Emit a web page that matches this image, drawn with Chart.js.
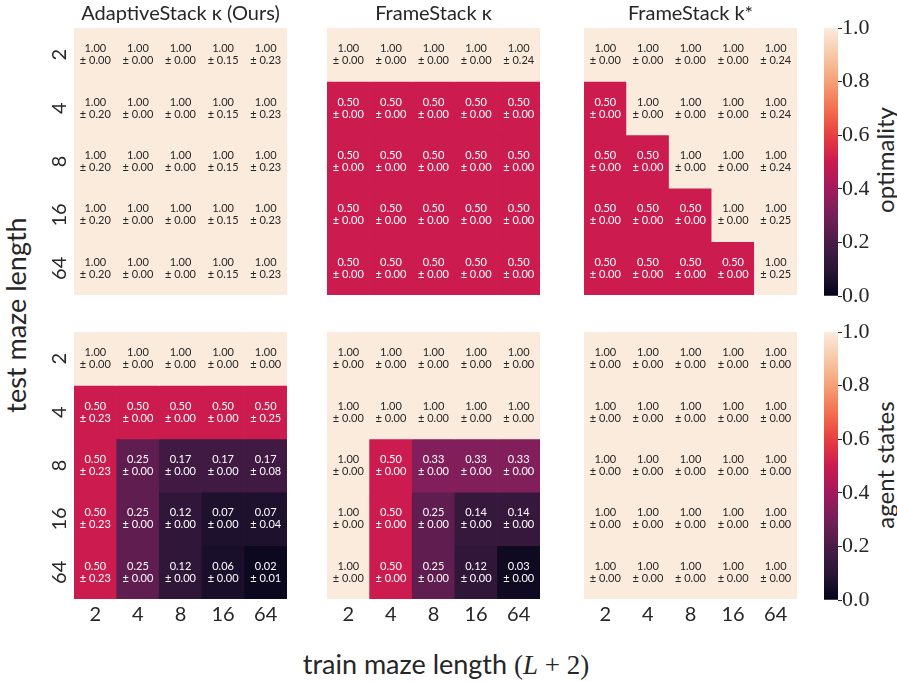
<!DOCTYPE html>
<html>
<head>
<meta charset="utf-8">
<script src="https://cdn.jsdelivr.net/npm/chart.js@4.4.1/dist/chart.umd.min.js"></script>
<style>
  body { margin: 0; background: #fff; width: 897px; height: 682px; position: relative; overflow: hidden; font-family: Lato, sans-serif; color: #262626; }
  canvas { position: absolute; }
  .lbl { position: absolute; white-space: nowrap; transform: translate(-50%, -50%); }
  .rot { transform: translate(-50%, -50%) rotate(-90deg); }
  .math { font-family: 'Liberation Serif', serif; }
</style>
</head>
<body>
<div class="lbl rot" style="left:15px; top:315px; font-size:27px;">test maze length</div>
<div class="lbl" style="left:446px; top:664px; font-size:27px;">train maze length <span class="math">(<i>L</i> + 2)</span></div>
<div class="lbl rot" style="left:884px; top:160px; font-size:24px;">optimality</div>
<div class="lbl rot" style="left:884px; top:465px; font-size:24px;">agent states</div>

<script>
// Axis categories
const trainLengths = ['2', '4', '8', '16', '64'];
const testLengths = ['2', '4', '8', '16', '64'];
const titles = ['AdaptiveStack κ (Ours)', 'FrameStack κ', 'FrameStack k*'];
const colorbarTicks = [0, 0.2, 0.4, 0.6, 0.8, 1.0];

// Optimality (top row): rows = test length, columns = train length
const adaptiveOptMean = [
  [1, 1, 1, 1, 1],
  [1, 1, 1, 1, 1],
  [1, 1, 1, 1, 1],
  [1, 1, 1, 1, 1],
  [1, 1, 1, 1, 1],
];
const adaptiveOptStd = [
  [0.00, 0.00, 0.00, 0.15, 0.23],
  [0.20, 0.00, 0.00, 0.15, 0.23],
  [0.20, 0.00, 0.00, 0.15, 0.23],
  [0.20, 0.00, 0.00, 0.15, 0.23],
  [0.20, 0.00, 0.00, 0.15, 0.23],
];
const frameOptMean = [
  [1, 1, 1, 1, 1],
  [0.5, 0.5, 0.5, 0.5, 0.5],
  [0.5, 0.5, 0.5, 0.5, 0.5],
  [0.5, 0.5, 0.5, 0.5, 0.5],
  [0.5, 0.5, 0.5, 0.5, 0.5],
];
const frameOptStd = [
  [0, 0, 0, 0, 0.24],
  [0, 0, 0, 0, 0],
  [0, 0, 0, 0, 0],
  [0, 0, 0, 0, 0],
  [0, 0, 0, 0, 0],
];
const starOptMean = [
  [1, 1, 1, 1, 1],
  [0.5, 1, 1, 1, 1],
  [0.5, 0.5, 1, 1, 1],
  [0.5, 0.5, 0.5, 1, 1],
  [0.5, 0.5, 0.5, 0.5, 1],
];
const starOptStd = [
  [0, 0, 0, 0, 0.24],
  [0, 0, 0, 0, 0.24],
  [0, 0, 0, 0, 0.24],
  [0, 0, 0, 0, 0.25],
  [0, 0, 0, 0, 0.25],
];

// Agent states (bottom row)
const adaptiveStatesMean = [
  [1, 1, 1, 1, 1],
  [0.50, 0.50, 0.50, 0.50, 0.50],
  [0.50, 0.25, 0.17, 0.17, 0.17],
  [0.50, 0.25, 0.12, 0.07, 0.07],
  [0.50, 0.25, 0.12, 0.06, 0.02],
];
const adaptiveStatesStd = [
  [0.00, 0.00, 0.00, 0.00, 0.00],
  [0.23, 0.00, 0.00, 0.00, 0.25],
  [0.23, 0.00, 0.00, 0.00, 0.08],
  [0.23, 0.00, 0.00, 0.00, 0.04],
  [0.23, 0.00, 0.00, 0.00, 0.01],
];
const frameStatesMean = [
  [1, 1, 1, 1, 1],
  [1, 1, 1, 1, 1],
  [1, 0.50, 0.33, 0.33, 0.33],
  [1, 0.50, 0.25, 0.14, 0.14],
  [1, 0.50, 0.25, 0.12, 0.03],
];
const frameStatesStd = [
  [0, 0, 0, 0, 0],
  [0, 0, 0, 0, 0],
  [0, 0, 0, 0, 0],
  [0, 0, 0, 0, 0],
  [0, 0, 0, 0, 0],
];
const starStatesMean = [
  [1, 1, 1, 1, 1],
  [1, 1, 1, 1, 1],
  [1, 1, 1, 1, 1],
  [1, 1, 1, 1, 1],
  [1, 1, 1, 1, 1],
];
const starStatesStd = [
  [0, 0, 0, 0, 0],
  [0, 0, 0, 0, 0],
  [0, 0, 0, 0, 0],
  [0, 0, 0, 0, 0],
  [0, 0, 0, 0, 0],
];

// "rocket"-like colormap
const colorStops = [
  [0.0, '#03051A'], [0.1, '#2A1636'], [0.2, '#4A1C48'], [0.3, '#751F58'],
  [0.4, '#A11A5B'], [0.5, '#CB1B4F'], [0.6, '#E83F3F'], [0.7, '#F3704F'],
  [0.8, '#F6A075'], [0.9, '#F6C9A9'], [1.0, '#FAEBDD'],
];
const hex = (h) => [1, 3, 5].map(i => parseInt(h.slice(i, i + 2), 16));
const rocket = (v) => {
  for (let k = 1; k < colorStops.length; k++) {
    const [s1, c1] = colorStops[k];
    const [s0, c0] = colorStops[k - 1];
    if (v <= s1) {
      const t = (v - s0) / (s1 - s0);
      const a = hex(c0), b = hex(c1);
      return `rgb(${a.map((x, i) => Math.round(x + t * (b[i] - x))).join(',')})`;
    }
  }
  return colorStops[colorStops.length - 1][1];
};

const TEXT = '#262626';
const colLeft = [74, 327, 584];
const rowTop = [28, 332];
const PANEL_W = 213;
const PANEL_H = 267;

const panels = [
  { row: 0, col: 0, mean: adaptiveOptMean, std: adaptiveOptStd },
  { row: 0, col: 1, mean: frameOptMean, std: frameOptStd },
  { row: 0, col: 2, mean: starOptMean, std: starOptStd },
  { row: 1, col: 0, mean: adaptiveStatesMean, std: adaptiveStatesStd },
  { row: 1, col: 1, mean: frameStatesMean, std: frameStatesStd },
  { row: 1, col: 2, mean: starStatesMean, std: starStatesStd },
];

const addCanvas = (left, top, w, h) => {
  const c = document.createElement('canvas');
  c.width = w; c.height = h;
  c.style.left = left + 'px'; c.style.top = top + 'px';
  c.style.width = w + 'px'; c.style.height = h + 'px';
  document.body.appendChild(c);
  return c;
};

panels.forEach(p => {
  const canvas = addCanvas(colLeft[p.col] - 50, rowTop[p.row] - 28, PANEL_W + 50, PANEL_H + 28 + 40);

  // Annotations "mean ± std" at each cell centre
  const cellText = {
    id: 'cellText',
    afterDatasetsDraw(chart) {
      const { ctx } = chart;
      ctx.save();
      ctx.font = '11px Lato';
      ctx.textAlign = 'center';
      ctx.textBaseline = 'middle';
      p.mean.forEach((row, i) => {
        const meta = chart.getDatasetMeta(i);
        row.forEach((m, j) => {
          const { x, y } = meta.data[j].getCenterPoint();
          ctx.fillStyle = m >= 0.7 ? TEXT : '#ffffff';
          ctx.fillText(m.toFixed(2), x, y - 6);
          ctx.fillText('± ' + p.std[i][j].toFixed(2), x, y + 6);
        });
      });
      ctx.restore();
    },
  };

  new Chart(canvas, {
    type: 'bar',
    data: {
      labels: trainLengths,
      datasets: testLengths.map((t, i) => ({
        label: t,
        data: trainLengths.map(() => 1),
        backgroundColor: p.mean[i].map(rocket),
        borderWidth: 0,
        barPercentage: 1,
        categoryPercentage: 1,
      })),
    },
    options: {
      responsive: false,
      animation: false,
      events: [],
      layout: { padding: { top: p.row === 0 ? 0 : 28, left: 0, right: 0, bottom: 0 } },
      plugins: {
        legend: { display: false },
        tooltip: { enabled: false },
        title: {
          display: p.row === 0,
          fullSize: false,
          text: titles[p.col],
          color: TEXT,
          font: { family: 'Lato', size: 20, weight: 'normal', lineHeight: 1.2 },
          padding: { top: 2, bottom: 2 },
        },
      },
      scales: {
        x: {
          stacked: true,
          grid: { display: false, drawTicks: false },
          border: { display: false },
          ticks: {
            display: p.row === 1,
            color: TEXT,
            font: { family: 'Lato', size: 20 },
            padding: 4,
            maxRotation: 0,
          },
          afterFit: (s) => { s.height = 40; },
        },
        y: {
          stacked: true,
          reverse: true,
          min: 0,
          max: 5,
          grid: { display: false, drawTicks: false },
          border: { display: false },
          afterBuildTicks: (s) => { s.ticks = testLengths.map((_, i) => ({ value: i + 0.5 })); },
          ticks: {
            display: p.col === 0,
            color: TEXT,
            font: { family: 'Lato', size: 20 },
            minRotation: 90,
            maxRotation: 90,
            crossAlign: 'center',
            padding: 3,
            callback: (v, i) => testLengths[i],
          },
          afterFit: (s) => { s.width = 50; },
        },
      },
    },
    plugins: [cellText],
  });
});

// Colorbars
rowTop.forEach(top => {
  const canvas = addCanvas(824, top - 14, 14 + 60, 268 + 28);
  new Chart(canvas, {
    type: 'bar',
    data: {
      labels: [''],
      datasets: [{
        data: [[colorbarTicks[0], colorbarTicks[colorbarTicks.length - 1]]],
        backgroundColor: (c) => {
          const area = c.chart.chartArea;
          if (!area) return colorStops[0][1];
          const g = c.chart.ctx.createLinearGradient(0, area.bottom, 0, area.top);
          colorStops.forEach(([s, col]) => g.addColorStop(s, col));
          return g;
        },
        borderWidth: 0,
        barPercentage: 1,
        categoryPercentage: 1,
      }],
    },
    options: {
      responsive: false,
      animation: false,
      events: [],
      layout: { padding: { top: 14, bottom: 14, left: 0, right: 0 } },
      plugins: { legend: { display: false }, tooltip: { enabled: false } },
      scales: {
        x: { display: false },
        y: {
          position: 'right',
          min: 0,
          max: 1,
          afterBuildTicks: (s) => { s.ticks = colorbarTicks.map(v => ({ value: v })); },
          ticks: {
            color: TEXT,
            font: { family: 'Liberation Serif', size: 22 },
            padding: 0,
            callback: (v) => Number(v).toFixed(1),
          },
          grid: { drawOnChartArea: false, drawTicks: true, tickLength: 4, color: TEXT },
          border: { display: false },
          afterFit: (s) => { s.width = 60; },
        },
      },
    },
  });
});
</script>
</body>
</html>
